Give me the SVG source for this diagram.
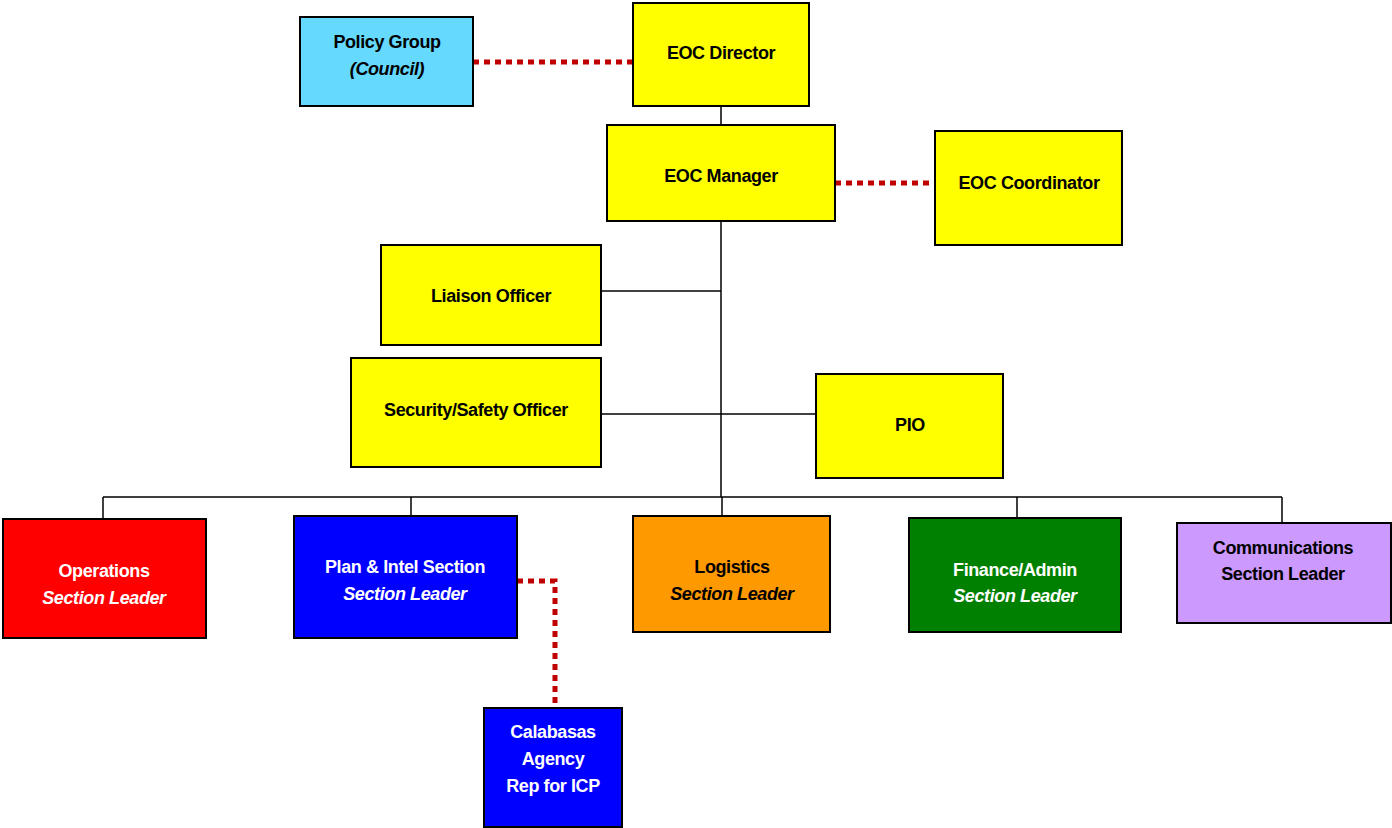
<svg xmlns="http://www.w3.org/2000/svg" width="1392" height="828" viewBox="0 0 1392 828">
<style>
.box{stroke:#000;stroke-width:2}
.t{font-family:"Liberation Sans",Arial,sans-serif;font-weight:bold;font-size:18px;text-anchor:middle;letter-spacing:-0.4px}
.i{font-style:italic}
.w{fill:#fff}
.k{fill:#000}
.ln{stroke:#000;stroke-width:1.5;fill:none}
.dot{stroke:#C00000;stroke-width:5;stroke-dasharray:6 5;fill:none}
</style>
<rect width="1392" height="828" fill="#fff"/>
<g id="connectors">
<line class="ln" x1="721" y1="106" x2="721" y2="125"/>
<line class="ln" x1="721" y1="221" x2="721" y2="497"/>
<line class="ln" x1="601" y1="291" x2="721" y2="291"/>
<line class="ln" x1="601" y1="414" x2="816" y2="414"/>
<line class="ln" x1="103" y1="497" x2="1282" y2="497"/>
<line class="ln" x1="103" y1="497" x2="103" y2="519"/>
<line class="ln" x1="411" y1="497" x2="411" y2="516"/>
<line class="ln" x1="722" y1="497" x2="722" y2="516"/>
<line class="ln" x1="1017" y1="497" x2="1017" y2="518"/>
<line class="ln" x1="1282" y1="497" x2="1282" y2="527"/>
<line class="dot" x1="473" y1="62" x2="633" y2="62"/>
<line class="dot" x1="835" y1="183" x2="935" y2="183"/>
<polyline class="dot" points="517,581 555,581 555,708"/>
</g>
<g id="policy"><rect class="box" x="300" y="17" width="173" height="89" fill="#66D9FF"/>
<text class="t k" x="387" y="48">Policy Group</text><text class="t k i" x="387" y="75">(Council)</text></g>
<g id="director"><rect class="box" x="633" y="3" width="176" height="103" fill="#FFFF00"/>
<text class="t k" x="721" y="59">EOC Director</text></g>
<g id="manager"><rect class="box" x="607" y="125" width="228" height="96" fill="#FFFF00"/>
<text class="t k" x="721" y="182">EOC Manager</text></g>
<g id="coordinator"><rect class="box" x="935" y="131" width="187" height="114" fill="#FFFF00"/>
<text class="t k" x="1029" y="189">EOC Coordinator</text></g>
<g id="liaison"><rect class="box" x="381" y="245" width="220" height="100" fill="#FFFF00"/>
<text class="t k" x="491" y="302">Liaison Officer</text></g>
<g id="security"><rect class="box" x="351" y="358" width="250" height="109" fill="#FFFF00"/>
<text class="t k" x="476" y="416">Security/Safety Officer</text></g>
<g id="pio"><rect class="box" x="816" y="374" width="187" height="104" fill="#FFFF00"/>
<text class="t k" x="910" y="431">PIO</text></g>
<g id="operations"><rect class="box" x="3" y="519" width="203" height="119" fill="#FF0000"/>
<text class="t w" x="104" y="577">Operations</text><text class="t w i" x="104" y="604">Section Leader</text></g>
<g id="planintel"><rect class="box" x="294" y="516" width="223" height="122" fill="#0000FF"/>
<text class="t w" x="405" y="573">Plan &amp; Intel Section</text><text class="t w i" x="405" y="600">Section Leader</text></g>
<g id="logistics"><rect class="box" x="633" y="516" width="197" height="116" fill="#FF9900"/>
<text class="t k" x="732" y="573">Logistics</text><text class="t k i" x="732" y="600">Section Leader</text></g>
<g id="finance"><rect class="box" x="909" y="518" width="212" height="114" fill="#008000"/>
<text class="t w" x="1015" y="576">Finance/Admin</text><text class="t w i" x="1015" y="602">Section Leader</text></g>
<g id="communications"><rect class="box" x="1177" y="523" width="214" height="100" fill="#CC99FF"/>
<text class="t k" x="1283" y="554">Communications</text><text class="t k" x="1283" y="580">Section Leader</text></g>
<g id="calabasas"><rect class="box" x="484" y="708" width="138" height="119" fill="#0000FF"/>
<text class="t w" x="553" y="738">Calabasas</text><text class="t w" x="553" y="765">Agency</text><text class="t w" x="553" y="792">Rep for ICP</text></g>
</svg>
